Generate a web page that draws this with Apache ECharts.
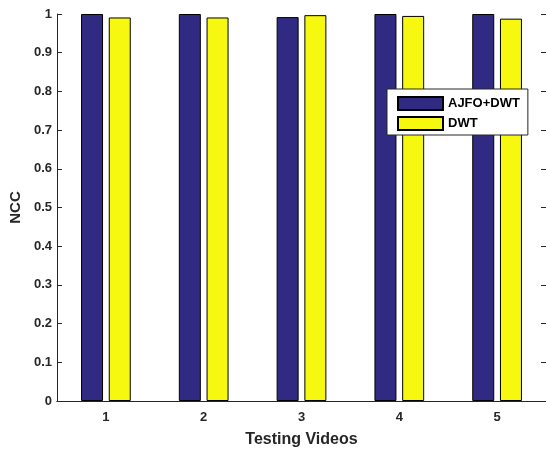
<!DOCTYPE html>
<html>
<head>
<meta charset="utf-8">
<script src="https://cdn.jsdelivr.net/npm/echarts@6/dist/echarts.min.js"></script>
<style>html,body{margin:0;padding:0;background:#fff;overflow:hidden;}#c{width:546px;height:453px;}</style>
</head>
<body>
<div id="c"></div>
<script>
var categories = ['1', '2', '3', '4', '5'];
var ajfoDwt = [1.0, 1.0, 0.992, 1.0, 1.0];
var dwt = [0.991, 0.991, 0.997, 0.995, 0.988];
var yTicks = [0, 0.1, 0.2, 0.3, 0.4, 0.5, 0.6, 0.7, 0.8, 0.9, 1];

var chart = echarts.init(document.getElementById('c'));
var axisColor = '#262626';
var fontFam = 'Liberation Sans, Arial, sans-serif';
chart.setOption({
  animation: false,
  backgroundColor: '#fff',
  grid: { left: 57, right: 0, top: 14, bottom: 49, containLabel: false },
  legend: {
    data: ['AJFO+DWT', 'DWT'],
    orient: 'vertical',
    left: 387, top: 89,
    backgroundColor: '#fff',
    borderColor: '#262626', borderWidth: 1,
    padding: [7, 8, 4, 10],
    itemWidth: 45, itemHeight: 13, itemGap: 5,
    icon: 'rect',
    textStyle: { fontFamily: fontFam, fontWeight: 'bold', fontSize: 13, color: '#000' }
  },
  xAxis: [{
    type: 'category', data: categories, position: 'bottom',
    name: 'Testing Videos', nameLocation: 'middle', nameGap: 31,
    nameTextStyle: { fontFamily: fontFam, fontWeight: 'bold', fontSize: 16, color: axisColor },
    axisLine: { lineStyle: { color: axisColor, width: 1 } },
    axisTick: { inside: true, alignWithLabel: true, length: 5, lineStyle: { color: axisColor } },
    axisLabel: { fontFamily: fontFam, fontWeight: 'bold', fontSize: 13, color: axisColor, margin: 10 },
    splitLine: { show: false }
  }, {
    type: 'category', data: categories, position: 'top',
    axisLine: { lineStyle: { color: axisColor, width: 1 } },
    axisTick: { inside: true, alignWithLabel: true, length: 5, lineStyle: { color: axisColor } },
    axisLabel: { show: false }
  }],
  yAxis: [{
    type: 'value', min: 0, max: 1, interval: 0.1,
    name: 'NCC', nameLocation: 'middle', nameGap: 32,
    nameTextStyle: { fontFamily: fontFam, fontWeight: 'bold', fontSize: 15, color: axisColor },
    axisLine: { show: true, lineStyle: { color: axisColor, width: 1 } },
    axisTick: { show: true, inside: true, length: 5, lineStyle: { color: axisColor } },
    axisLabel: {
      fontFamily: fontFam, fontWeight: 'bold', fontSize: 13, color: axisColor, margin: 5,
      formatter: function (v) { var r = Math.round(v * 10) / 10; return yTicks.indexOf(r) >= 0 ? String(r) : ''; }
    },
    splitLine: { show: false }
  }, {
    type: 'value', min: 0, max: 1, interval: 0.1, position: 'right',
    axisLine: { show: false },
    axisTick: { show: true, inside: true, length: 5, lineStyle: { color: axisColor } },
    axisLabel: { show: false },
    splitLine: { show: false }
  }],
  series: [{
    name: 'AJFO+DWT', type: 'bar', xAxisIndex: 0, yAxisIndex: 0, data: ajfoDwt, barWidth: 22, barGap: '26%',
    itemStyle: { color: '#312a82', borderColor: '#000', borderWidth: 1 }
  }, {
    name: 'DWT', type: 'bar', xAxisIndex: 0, yAxisIndex: 0, data: dwt, barWidth: 22, barGap: '26%',
    itemStyle: { color: '#f7f80f', borderColor: '#000', borderWidth: 1 }
  }]
});
</script>
</body>
</html>
